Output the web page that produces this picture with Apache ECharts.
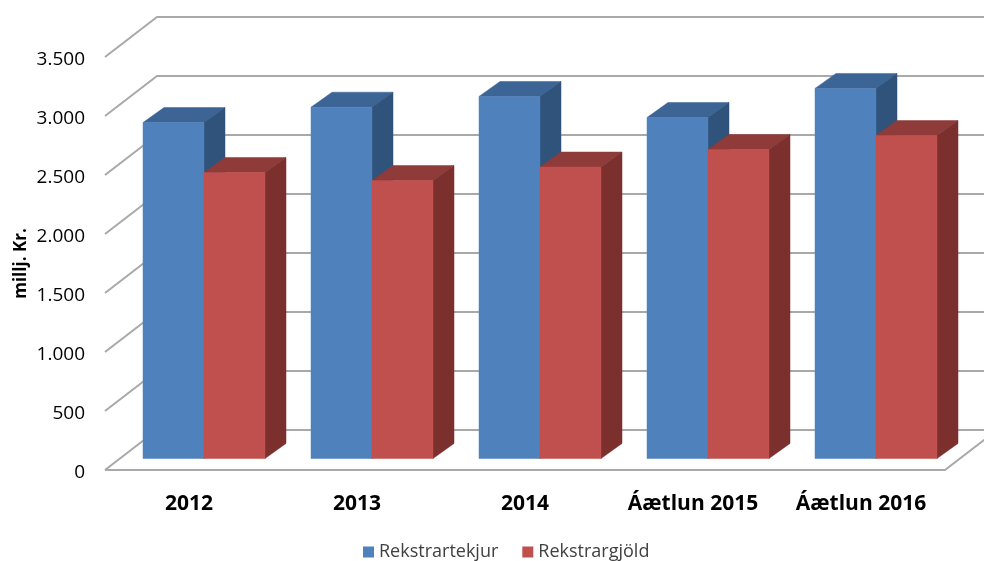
<!DOCTYPE html>
<html>
<head>
<meta charset="utf-8">
<style>html,body{margin:0;padding:0;background:#fff}#c{width:984px;height:561px}</style>
<script src="https://cdn.jsdelivr.net/npm/echarts@6/dist/echarts.min.js"></script>
</head>
<body>
<div id="c"></div>
<script>
var categories = ['2012', '2013', '2014', 'Áætlun 2015', 'Áætlun 2016'];
var rekstrartekjur = [2847, 2977, 3068, 2890, 3136];
var rekstrargjold = [2424, 2356, 2470, 2619, 2737];
var yTicks = [0, 500, 1000, 1500, 2000, 2500, 3000, 3500];
var seriesNames = ['Rekstrartekjur', 'Rekstrargjöld'];
var yTitle = 'millj. Kr.';

var WALL = [52, -40];      // front edge of floor to back wall
var BAR_INSET = [15, -11.5]; // front of floor to front of bars
var BAR_DEPTH = [21, -15];  // depth of a bar
var BAR_W = 61;
var FONT = '"Open Sans", sans-serif';
var GRID_COLOR = '#a9a9a9';

function poly(pts, color) {
  return { type: 'polygon', shape: { points: pts }, style: { fill: color, stroke: color, lineWidth: 0.5 }, silent: true };
}
function barRender(side, front, top, sideCol) {
  return function (params, api) {
    var c = api.coord([api.value(0), api.value(1)]);
    var b = api.coord([api.value(0), 0]);
    var x0 = c[0] + BAR_INSET[0] + (side < 0 ? -BAR_W : 0);
    var x1 = x0 + BAR_W;
    var yT = c[1] + BAR_INSET[1];
    var yB = b[1] + BAR_INSET[1];
    var dx = BAR_DEPTH[0], dy = BAR_DEPTH[1];
    return { type: 'group', children: [
      poly([[x0, yT], [x1, yT], [x1 + dx, yT + dy], [x0 + dx, yT + dy]], top),
      poly([[x1, yT], [x1 + dx, yT + dy], [x1 + dx, yB + dy], [x1, yB]], sideCol),
      poly([[x0, yT], [x1, yT], [x1, yB], [x0, yB]], front)
    ] };
  };
}
function gridRender(params, api) {
  var v = api.value(1);
  var p = api.coord([0, v]);
  var g = params.coordSys;
  var x0 = g.x, x1 = g.x + g.width;
  var pts = [[x0, p[1]], [x0 + WALL[0], p[1] + WALL[1]], [x1 + WALL[0], p[1] + WALL[1]]];
  if (v === 0) pts = pts.concat([[x1, p[1]], [x0, p[1]]]);
  return { type: 'polyline', shape: { points: pts }, style: { stroke: GRID_COLOR, lineWidth: 2, fill: null }, silent: true };
}

var chart = echarts.init(document.getElementById('c'), null, { renderer: 'canvas' });
chart.setOption({
  animation: false,
  backgroundColor: '#fff',
  grid: { left: 105, right: 39, top: 57, bottom: 91, outerBoundsMode: 'none' },
  legend: {
    data: seriesNames, top: 538, left: 358, itemWidth: 11, itemHeight: 11, itemGap: 24,
    icon: 'rect', textStyle: { fontFamily: FONT, fontSize: 18, color: '#404040' }
  },
  xAxis: {
    type: 'category', data: categories,
    axisLine: { show: false }, axisTick: { show: false },
    axisLabel: { fontFamily: FONT, fontSize: 21, fontWeight: 'bold', color: '#000', margin: 24, interval: 0 }
  },
  yAxis: {
    type: 'value', min: 0, max: 3500, interval: 500,
    name: yTitle, nameLocation: 'middle', nameGap: 75, nameMoveOverlap: false,
    nameTextStyle: { fontFamily: FONT, fontSize: 17, fontWeight: 'bold', color: '#000' },
    axisLine: { show: false }, axisTick: { show: false }, splitLine: { show: false },
    axisLabel: {
      fontFamily: FONT, fontSize: 19, color: '#000', margin: 20, verticalAlign: 'top', lineHeight: 5,
      formatter: function (v) { return String(v).replace(/\B(?=(\d{3})+$)/g, '.'); }
    }
  },
  series: [
    { type: 'custom', name: 'grid', z: 1, clip: false, renderItem: gridRender, silent: true,
      data: yTicks.map(function (v) { return [0, v]; }), encode: { x: 0, y: 1 } },
    { type: 'custom', name: seriesNames[0], z: 2, clip: false, itemStyle: { color: '#4f81bd' },
      renderItem: barRender(-1, '#4f81bd', '#3c6494', '#30537b'),
      data: rekstrartekjur.map(function (v, i) { return [i, v]; }), encode: { x: 0, y: 1 } },
    { type: 'custom', name: seriesNames[1], z: 3, clip: false, itemStyle: { color: '#c0504d' },
      renderItem: barRender(1, '#c0504d', '#8f3b39', '#7b302e'),
      data: rekstrargjold.map(function (v, i) { return [i, v]; }), encode: { x: 0, y: 1 } }
  ]
});
</script>
</body>
</html>
